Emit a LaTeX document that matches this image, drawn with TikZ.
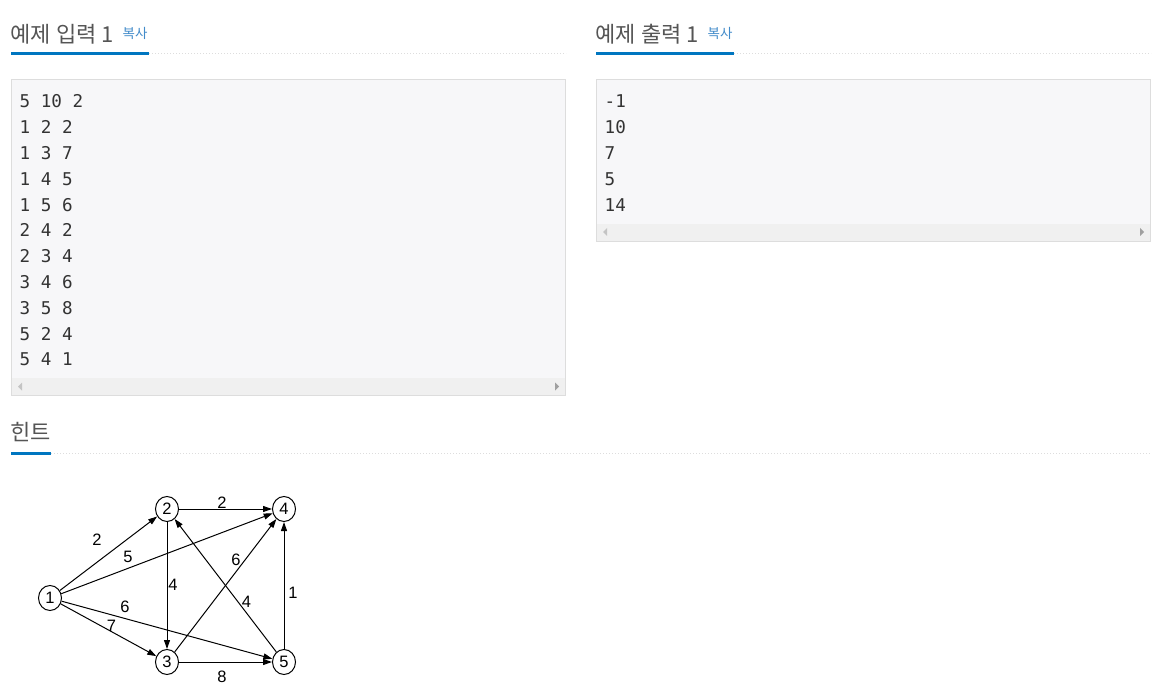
\documentclass[tikz,border=0pt]{standalone}
\usepackage{fontspec}
\setmainfont{Liberation Sans}
\newfontfamily\krfont{Noto Sans CJK KR}
\newfontfamily\monofont{DejaVu Sans Mono}
\usetikzlibrary{arrows.meta,shapes.geometric}
\definecolor{headgray}{HTML}{555555}
\definecolor{linkblue}{HTML}{428BCA}
\definecolor{barblue}{HTML}{0076C0}
\definecolor{dotgray}{HTML}{DDDDDD}
\definecolor{boxfill}{HTML}{F7F7F9}
\definecolor{boxline}{HTML}{DDDDDD}
\definecolor{scrollfill}{HTML}{F0F0F0}
\definecolor{codetext}{HTML}{333333}
\definecolor{arrowgray}{HTML}{A0A0A0}
\definecolor{arrowlight}{HTML}{C4C4C4}
\tikzset{
  heading/.style={font=\krfont\fontsize{22}{22}\selectfont, text=headgray, anchor=base west, inner sep=0pt},
  copylink/.style={font=\krfont\fontsize{13.5}{13.5}\selectfont, text=linkblue, anchor=base west, inner sep=0pt},
  underbar/.style={barblue, line width=3pt},
  dotrule/.style={dotgray, line width=1pt, dash pattern=on 1pt off 2pt},
  codebox/.style={draw=boxline, fill=boxfill, line width=1pt},
  scrollstrip/.style={fill=scrollfill},
  codeline/.style={font=\monofont\fontsize{17.6}{17.6}\selectfont, text=codetext, anchor=base west, inner sep=0pt},
  vtx/.style={draw, ellipse, minimum width=23pt, minimum height=25pt, inner sep=0pt, line width=1pt, font=\fontsize{16.5}{16.5}\selectfont},
  wlabel/.style={font=\fontsize{16.5}{16.5}\selectfont, inner sep=0pt},
  edge/.style={draw, line width=1pt, -{Triangle[length=9pt,width=6pt]}}
}
\begin{document}
\begin{tikzpicture}[x=1pt,y=-1pt]
\useasboundingbox[fill=white] (0,0) rectangle (1156,692);

% ---- headings ----
\node[heading] (h1) at (10.5,43) {예제 입력 1};
\node[copylink] (c1) at (122.5,39) {복사};
\draw[dotrule] (149,53.5) -- (566,53.5);
\draw[underbar] (11,53.5) -- (149,53.5);

\node[heading] (h2) at (595.5,43) {예제 출력 1};
\node[copylink] (c2) at (707.5,39) {복사};
\draw[dotrule] (734,53.5) -- (1151,53.5);
\draw[underbar] (596,53.5) -- (734,53.5);

\node[heading] (h3) at (10.5,440.5) {힌트};
\draw[dotrule] (51,453.5) -- (1151,453.5);
\draw[underbar] (11,453.5) -- (51,453.5);

% ---- input box ----
\draw[codebox] (11.5,79.5) rectangle (565.5,395.5);
\fill[scrollfill] (12,378) rectangle (565,395);
\fill[arrowlight] (22,382.5) -- (18,386.5) -- (22,390.5) -- cycle;
\fill[arrowgray] (555,382.5) -- (559,386.5) -- (555,390.5) -- cycle;
\foreach \t [count=\i] in {5 10 2,1 2 2,1 3 7,1 4 5,1 5 6,2 4 2,2 3 4,3 4 6,3 5 8,5 2 4,5 4 1}{
  \node[codeline] (in\i) at (19.5,{108+25.8*(\i-1)}) {\t};
}

% ---- output box ----
\draw[codebox] (596.5,79.5) rectangle (1150.5,241.5);
\fill[scrollfill] (597,224) rectangle (1150,241);
\fill[arrowlight] (607,228) -- (603,232) -- (607,236) -- cycle;
\fill[arrowgray] (1140,228) -- (1144,232) -- (1140,236) -- cycle;
\foreach \t [count=\i] in {-1,10,7,5,14}{
  \node[codeline] (out\i) at (604.5,{108+25.8*(\i-1)}) {\t};
}

% ---- graph ----
\node[vtx] (n1) at (50,598) {1};
\node[vtx] (n2) at (167,509) {2};
\node[vtx] (n4) at (284,509) {4};
\node[vtx] (n3) at (167,662) {3};
\node[vtx] (n5) at (284,662) {5};

\draw[edge] (n1) -- (n2);
\draw[edge] (n1) -- (n4);
\draw[edge] (n1) -- (n5);
\draw[edge] (n1) -- (n3);
\draw[edge] (n2) -- (n4);
\draw[edge] (n2) -- (n3);
\draw[edge] (n3) -- (n4);
\draw[edge] (n5) -- (n2);
\draw[edge] (n3) -- (n5);
\draw[edge] (n5) -- (n4);

\node[wlabel] (w12) at (97,540) {2};
\node[wlabel] (w14) at (128,557) {5};
\node[wlabel] (w15) at (125,607) {6};
\node[wlabel] (w13) at (111.5,626) {7};
\node[wlabel] (w24) at (222,503) {2};
\node[wlabel] (w23) at (173,585) {4};
\node[wlabel] (w34) at (236,560) {6};
\node[wlabel] (w52) at (246.5,601.5) {4};
\node[wlabel] (w35) at (222,676.5) {8};
\node[wlabel] (w54) at (293,592.5) {1};
\end{tikzpicture}
\end{document}
